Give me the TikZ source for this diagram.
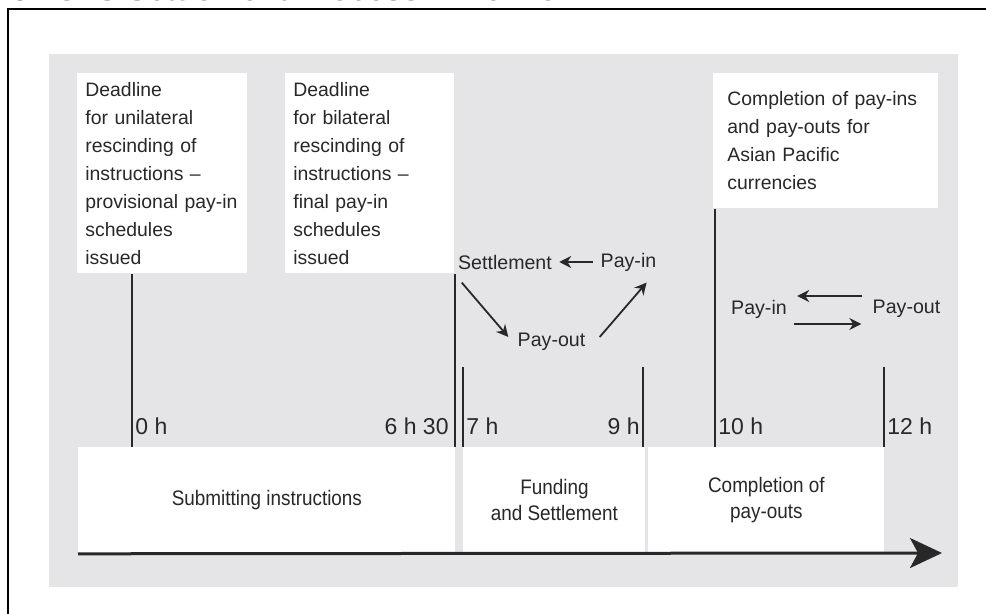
\documentclass[tikz,border=0pt]{standalone}
\usepackage{fontspec}
\setmainfont{Liberation Sans}
\newfontfamily\narrowsans[FakeStretch=0.9]{Liberation Sans}
\usetikzlibrary{arrows.meta, positioning, calc}
\definecolor{panelgray}{RGB}{229,229,231}
\definecolor{inkgray}{RGB}{40,40,40}

\begin{document}
\begin{tikzpicture}[x=0.5pt, y=-0.5pt,
	note/.style={rectangle, fill=white, align=left, text=inkgray, inner ysep=0pt, font=\fontsize{9.7}{14}\selectfont},
	span/.style={rectangle, fill=white, align=center, text=inkgray, minimum height=53pt, inner sep=0pt, font=\narrowsans\fontsize{10.5}{13}\selectfont},
	hour/.style={inner sep=0pt, text=inkgray, font=\fontsize{11.5}{13}\selectfont},
	flowtext/.style={inner sep=3.5pt, text=inkgray, font=\fontsize{9.8}{12}\selectfont},
	flow/.style={line width=0.9pt, draw=inkgray, -{Stealth[length=6pt, width=6pt]}},
	tick/.style={line width=0.8pt, draw=inkgray},
	timeaxis/.style={line width=1.5pt, draw=inkgray, -{Stealth[length=16pt, width=15pt, inset=4pt]}}]
	\useasboundingbox (0,0) rectangle (986,614);
	\clip (0,0) rectangle (986,614);
	
	% Frame and title
	\node (title) [anchor=base west, inner sep=0pt, font=\bfseries\fontsize{15.8}{18}\selectfont] at (11,1) {3. \,CLS Settlement Process Timeline};
	\draw[line width=1pt] (8,620) -- (8,9.5) -- (990,9.5);
	\fill[panelgray] (49,54) rectangle (958,587);
	
	% Deadline boxes
	\node (dlA) [note, anchor=north west, inner xsep=4pt, text width=77pt, minimum height=100pt] at (77,73) {Deadline\\for unilateral\\rescinding of\\instructions --\\provisional pay-in\\schedules\\issued};
	\node (dlB) [note, anchor=north west, inner xsep=4pt, text width=76.5pt, minimum height=100pt] at (285,73) {Deadline\\for bilateral\\rescinding of\\instructions --\\final pay-in\\schedules\\issued};
	\node (dlC) [note, anchor=north west, inner xsep=7pt, text width=98.5pt, minimum height=67.5pt] at (713,73) {Completion of pay-ins\\and pay-outs for\\Asian Pacific\\currencies};
	
	% Phases
	\node (span1) [span, anchor=north west, minimum width=188.5pt] at (78,447) {Submitting instructions};
	\node (span2) [span, anchor=north west, minimum width=91pt] at (463,447) {Funding\\and Settlement};
	\node (span3) [span, anchor=north west, minimum width=118pt] at (648,447) {Completion of\\pay-outs};
	
	% Hours
	\node (h0) [hour, anchor=base west] at (135,435) {0 h};
	\node (h630) [hour, anchor=base east] at (449,435) {6 h 30};
	\node (h7) [hour, anchor=base west] at (466,435) {7 h};
	\node (h9) [hour, anchor=base east] at (640,435) {9 h};
	\node (h10) [hour, anchor=base west] at (718,435) {10 h};
	\node (h12) [hour, anchor=base west] at (887,435) {12 h};
	
	\coordinate (t0) at (132,447);
	\coordinate (t7) at (463,367);
	\coordinate (t9) at (643,367);
	\coordinate (t10) at (715,447);
	\coordinate (t12) at (884,367);
	\draw[tick] (dlA.south -| t0) -- (t0);
	\draw[tick] (dlB.south east) -- (dlB.south east |- span1.north);
	\draw[tick] (t7) -- (t7 |- span2.north);
	\draw[tick] (t9) -- (t9 |- span2.north);
	\draw[tick] (dlC.south -| t10) -- (t10);
	\draw[tick] (t12) -- (t12 |- span3.north);
	
	% Settlement cycle
	\node (settle) [flowtext] at (505,262) {Settlement};
	\node (payinA) [flowtext] at (628.5,262) {Pay-in};
	\node (payoutA) [flowtext] at (551.5,342) {Pay-out};
	\node (payinB) [flowtext] at (759,309) {Pay-in};
	\node (payoutB) [flowtext] at (906.5,309) {Pay-out};
	
	% Arrows
	\draw[flow] (payinA) -- (settle);
	\draw[flow] ($(settle.south west)+(11,6)$) -- ($(payoutA.west)+(-2,-5)$);
	\draw[flow] ($(payoutA.east)+(7,-5)$) -- ($(payinA.south east)+(-17,4)$);
	\draw[flow] ($(payoutB.west)+(-3,-13)$) -- ($(payinB.east)+(3,-13)$);
	\draw[flow] ($(payinB.east)+(0,15)$) -- ($(payoutB.west)+(-4,15)$);
	
	\coordinate (tend) at (942,553);
	\draw[timeaxis] (span1.south west) -- (tend);
\end{tikzpicture}
\end{document}
